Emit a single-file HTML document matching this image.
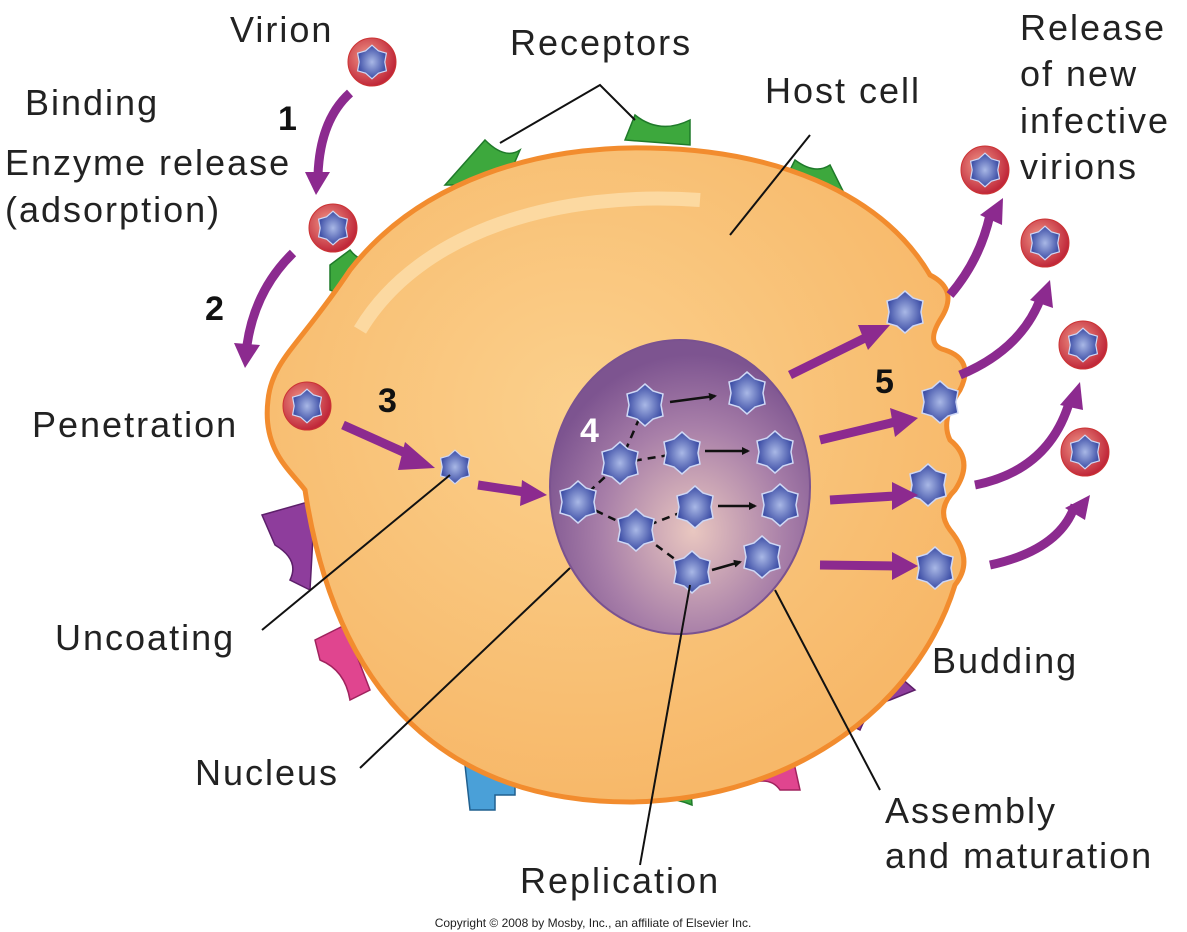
<!DOCTYPE html>
<html><head><meta charset="utf-8"><style>
body{margin:0;background:#fff;}
svg{display:block}
text{font-family:"Liberation Sans",sans-serif;fill:#222}
.lb text{letter-spacing:2px}
</style></head><body>
<svg width="1187" height="932" viewBox="0 0 1187 932" xmlns="http://www.w3.org/2000/svg">
<defs>
<radialGradient id="cellg" cx="0.45" cy="0.4" r="0.6">
<stop offset="0" stop-color="#fbd08c"/><stop offset="1" stop-color="#f7b869"/></radialGradient>
<radialGradient id="nucg" cx="0.55" cy="0.65" r="0.6">
<stop offset="0" stop-color="#e9c7c0"/><stop offset="0.6" stop-color="#a77ea8"/><stop offset="1" stop-color="#7d5490"/></radialGradient>
<radialGradient id="starg" cx="0.5" cy="0.5" r="0.5">
<stop offset="0" stop-color="#a9b8e6"/><stop offset="1" stop-color="#3d4ea6"/></radialGradient>
<radialGradient id="virg" cx="0.4" cy="0.4" r="0.6">
<stop offset="0" stop-color="#f29a8a"/><stop offset="1" stop-color="#c0283a"/></radialGradient>
<g id="st"><path d="M0,-21 L8,-14 L18,-11 L16,0 L18,11 L8,14 L0,21 L-8,14 L-18,11 L-16,0 L-18,-11 L-8,-14 Z" fill="url(#starg)" stroke="#cfd8f5" stroke-width="1.5"/></g>
<g id="vir"><circle r="24" fill="url(#virg)" stroke="#c33" stroke-width="1"/><g transform="scale(0.8)"><use href="#st"/></g></g>
<marker id="ah" markerWidth="8" markerHeight="8" refX="6" refY="4" orient="auto" markerUnits="userSpaceOnUse"><path d="M0,0 L8,4 L0,8 Z" fill="#111"/></marker>
</defs>

<g fill="#3da83d" stroke="#1f7a2a" stroke-width="1.5">
<path d="M445,185 L485,140 Q505,160 520,150 L505,185 Z"/>
<path d="M625,140 L635,115 Q660,135 690,120 L690,145 Z"/>
<path d="M785,180 L795,160 Q815,175 830,165 L850,205 L820,210 Z"/>
<path d="M330,290 L330,265 L350,250 Q365,270 385,245 L390,260 L355,300 Z"/>
<path d="M640,800 L645,775 L690,775 L692,805 Q668,795 640,800 Z"/>
</g>
<g fill="#8e3d9c" stroke="#5d1f6a" stroke-width="1.5">
<path d="M262,515 L315,500 L310,590 L290,580 Q300,560 275,545 Z"/>
<path d="M830,715 L880,660 L915,690 L890,700 Q870,705 860,730 Z"/>
</g>
<g fill="#e0458f" stroke="#a0235e" stroke-width="1.5">
<path d="M315,640 L345,625 L370,690 L350,700 Q345,670 320,660 Z"/>
<path d="M740,770 L790,745 L800,790 L780,790 Q770,775 745,785 Z"/>
</g>
<path d="M465,765 L515,765 L515,795 L495,795 L495,810 L470,810 Z" fill="#4aa0d8" stroke="#21608f" stroke-width="1.5"/>

<path d="M350,270 C420,180 540,145 650,148 C770,150 880,190 930,275 Q960,290 940,320 Q925,345 945,350 Q975,360 960,390 Q940,420 950,440 Q975,460 955,490 Q935,510 950,530 Q975,560 955,585 C920,700 800,800 630,802 C470,802 340,720 305,490 C290,470 262,450 268,400 C272,360 300,345 350,270 Z" fill="url(#cellg)" stroke="#f28c2e" stroke-width="5"/>
<path d="M360,330 C420,230 560,190 700,200" fill="none" stroke="#fde3b2" stroke-width="14" opacity="0.7"/>

<ellipse cx="680" cy="487" rx="130" ry="147" fill="url(#nucg)" stroke="#7a5290" stroke-width="2"/>

<g stroke="#111" stroke-width="2.5" stroke-dasharray="8,6" fill="none">
<path d="M645,405 L620,463 L578,502 L636,530 L692,572"/>
<path d="M620,463 L682,453"/><path d="M636,530 L695,507"/>
</g>
<g stroke="#111" stroke-width="2.5" fill="none" marker-end="url(#ah)">
<path d="M670,402 L715,396"/><path d="M705,451 L748,451"/><path d="M718,506 L755,506"/><path d="M712,570 L740,562"/>
</g>

<use href="#st" x="645" y="405"/><use href="#st" x="747" y="393"/><use href="#st" x="620" y="463"/>
<use href="#st" x="682" y="453"/><use href="#st" x="775" y="452"/><use href="#st" x="578" y="502"/>
<use href="#st" x="695" y="507"/><use href="#st" x="780" y="505"/><use href="#st" x="636" y="530"/>
<use href="#st" x="692" y="572"/><use href="#st" x="762" y="557"/>
<use href="#st" x="905" y="312"/><use href="#st" x="940" y="402"/><use href="#st" x="928" y="485"/><use href="#st" x="935" y="568"/>
<g transform="translate(455,467) scale(0.8)"><use href="#st"/></g>

<use href="#vir" x="372" y="62"/><use href="#vir" x="333" y="228"/><use href="#vir" x="307" y="406"/>
<use href="#vir" x="985" y="170"/><use href="#vir" x="1045" y="243"/><use href="#vir" x="1083" y="345"/><use href="#vir" x="1085" y="452"/>

<g fill="none" stroke="#8c2a8f" stroke-width="9">
<path d="M350,93 Q320,120 318,175"/>
<path d="M293,253 Q255,290 247,345"/>
<path d="M343,425 L410,455"/><path d="M478,485 L525,492"/>
<path d="M790,375 L865,338"/><path d="M820,440 L895,422"/><path d="M830,500 L895,496"/><path d="M820,565 L895,566"/>
<path d="M950,295 Q980,260 990,215"/><path d="M960,375 Q1020,350 1040,300"/>
<path d="M975,485 Q1050,470 1070,400"/><path d="M990,565 Q1060,550 1075,505"/>
</g>
<g fill="#8c2a8f">
<path d="M305,172 L330,172 L316,195 Z"/><path d="M234,343 L260,345 L245,368 Z"/>
<path d="M405,442 L435,468 L398,470 Z"/><path d="M522,480 L547,495 L520,506 Z"/>
<path d="M858,325 L890,325 L868,350 Z"/><path d="M890,408 L918,418 L895,437 Z"/><path d="M892,482 L918,495 L892,510 Z"/><path d="M892,552 L918,566 L892,580 Z"/>
<path d="M980,215 L1003,198 L1002,225 Z"/><path d="M1030,300 L1050,280 L1053,308 Z"/>
<path d="M1060,405 L1080,382 L1083,410 Z"/><path d="M1065,508 L1090,495 L1085,520 Z"/>
</g>

<g stroke="#111" stroke-width="2" fill="none">
<path d="M500,143 L600,85 L635,120"/>
<path d="M730,235 L810,135"/>
<path d="M262,630 L450,475"/>
<path d="M360,768 L570,568"/>
<path d="M640,865 L690,585"/>
<path d="M880,790 L775,590"/>
</g>

<g font-weight="bold" font-size="34">
<text x="278" y="130" style="fill:#111">1</text>
<text x="205" y="320" style="fill:#111">2</text>
<text x="378" y="412" style="fill:#111">3</text>
<text x="580" y="442" style="fill:#fff">4</text>
<text x="875" y="393" style="fill:#111">5</text>
</g>

<g font-size="36" class="lb">
<text x="230" y="42">Virion</text>
<text x="510" y="55">Receptors</text>
<text x="765" y="103">Host cell</text>
<text x="1020" y="40">Release</text>
<text x="1020" y="86">of new</text>
<text x="1020" y="133">infective</text>
<text x="1020" y="179">virions</text>
<text x="25" y="115">Binding</text>
<text x="5" y="175">Enzyme release</text>
<text x="5" y="222">(adsorption)</text>
<text x="32" y="437">Penetration</text>
<text x="55" y="650">Uncoating</text>
<text x="195" y="785">Nucleus</text>
<text x="520" y="893">Replication</text>
<text x="885" y="823">Assembly</text>
<text x="885" y="868">and maturation</text>
<text x="932" y="673">Budding</text>
</g>
<text x="593" y="927" font-size="12" text-anchor="middle">Copyright © 2008 by Mosby, Inc., an affiliate of Elsevier Inc.</text>
</svg>
</body></html>
